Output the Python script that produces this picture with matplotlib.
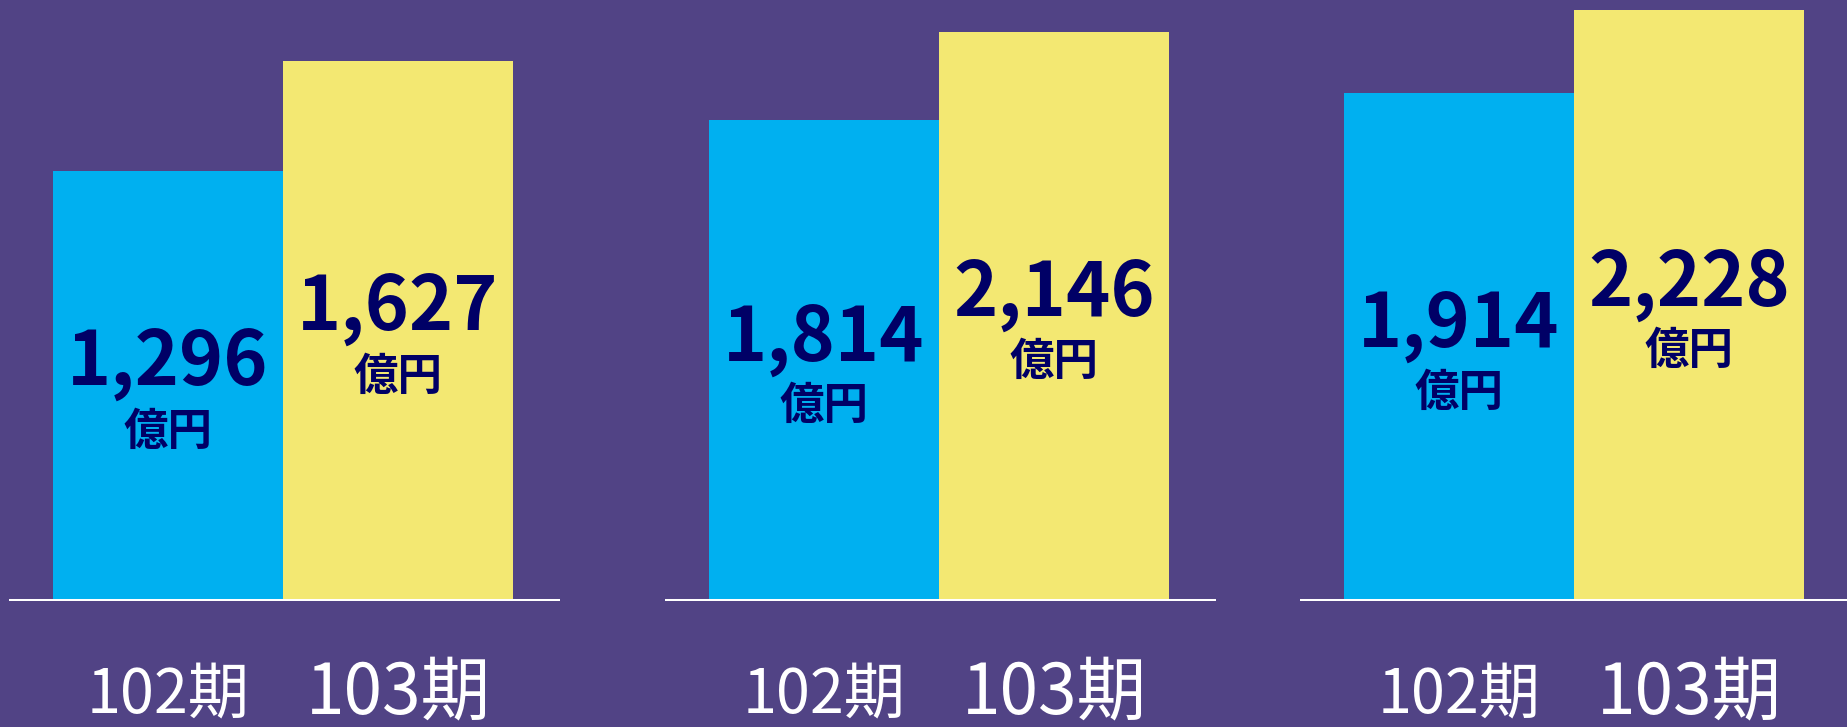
import matplotlib.pyplot as plt

# data
periods = ['102期', '103期']
panel_values = [
    [1296, 1627],
    [1814, 2146],
    [1914, 2228],
]
unit_label = '億円'

bg = '#514385'
bar_colors = ['#00b0f0', '#f3e872']
navy = '#000066'

W, H = 1847, 727
fig = plt.figure(figsize=(W / 100, H / 100), dpi=100)
fig.patch.set_facecolor(bg)

# layout (pixels): left edge of each panel, width, baseline position
panel_left = [9, 665, 1300]
panel_w = 551
base_px = 601
ymax = [1811, 2265, 2265]
px_per_unit = 230
xmin = -0.5 - 44 / px_per_unit
xmax = xmin + panel_w / px_per_unit

for k, vals in enumerate(panel_values):
    ax = fig.add_axes([panel_left[k] / W, (H - base_px) / H, panel_w / W, base_px / H])
    ax.set_facecolor('none')
    ax.set_xlim(xmin, xmax)
    ax.set_ylim(0, ymax[k])
    ax.axis('off')

    xs = range(len(vals))
    ax.bar(xs, vals, width=1.0, color=bar_colors, zorder=2)
    ax.axhline(0, color='white', lw=2.9, zorder=3)

    for i, v in enumerate(vals):
        ax.text(i, v / 2, f'{v:,}', ha='center', va='baseline', color=navy,
                fontsize=54, fontweight='bold', family=['Noto Sans CJK JP', 'DejaVu Sans'], zorder=4)
        ax.annotate(unit_label, xy=(i, v / 2), xytext=(0, -33), textcoords='offset points',
                    ha='center', va='center', color=navy, fontsize=32, fontweight='bold',
                    family=['Noto Sans CJK JP', 'DejaVu Sans'], zorder=4)

    sizes = [44, 50]
    for i, p in enumerate(periods):
        ax.annotate(p, xy=(i, 0), xycoords=('data', 'axes fraction'),
                    xytext=(0, -112 * 0.72), textcoords='offset points',
                    ha='center', va='baseline', color='white', fontsize=sizes[i],
                    family=['Noto Sans CJK JP', 'DejaVu Sans'], annotation_clip=False)

fig.savefig('out.png', dpi=100, facecolor=bg)
